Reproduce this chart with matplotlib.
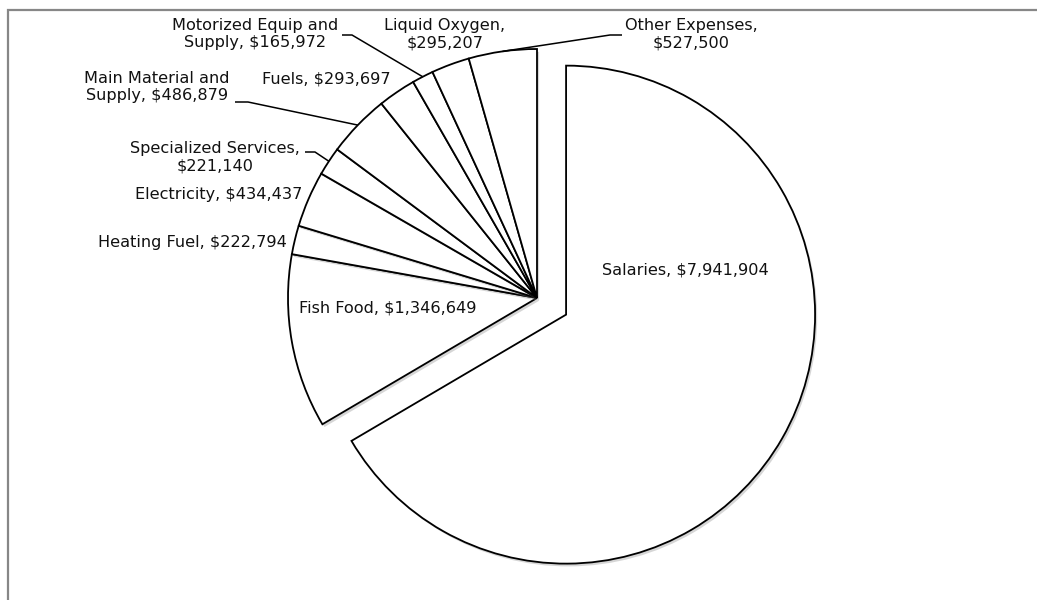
import numpy as np
import matplotlib
matplotlib.use("Agg")
import matplotlib.pyplot as plt
import matplotlib.patheffects as pe

# operating budget by expense category
categories = ["Salaries", "Fish Food", "Heating Fuel", "Electricity",
              "Specialized Services", "Main Material and Supply", "Fuels",
              "Motorized Equip and Supply", "Liquid Oxygen", "Other Expenses"]
amounts = [7941904, 1346649, 222794, 434437, 221140, 486879, 293697,
           165972, 295207, 527500]
label_text = ["Salaries, $7,941,904", "Fish Food, $1,346,649",
              "Heating Fuel, $222,794", "Electricity, $434,437",
              "Specialized Services,\n$221,140",
              "Main Material and\nSupply, $486,879", "Fuels, $293,697",
              "Motorized Equip and\nSupply, $165,972",
              "Liquid Oxygen,\n$295,207", "Other Expenses,\n$527,500"]

W, H = 1037, 600
# label anchor (x, y from top), alignment, optional leader stub (x_start, x_end, y)
label_pos = [(685, 270, "center"), (388, 308, "center"), (287, 242, "right"),
             (302, 195, "right"), (215, 157, "center"), (157, 87, "center"),
             (326, 79, "center"), (255, 34, "center"), (445, 34, "center"),
             (691, 34, "center")]
stubs = {4: (305, 315, 152), 5: (235, 248, 102), 7: (342, 352, 35),
         9: (622, 610, 35)}

plt.rcParams["font.family"] = ["DejaVu Sans"]

fig = plt.figure(figsize=(W / 100, H / 100), dpi=100)
ax = fig.add_axes([0, 0, 1, 1])

cx, cy, r = 537, H - 298, 249
# pie offsets the exploded wedge by this many data units (pixels here)
explode = [33.5] + [0] * (len(amounts) - 1)
shadow = [pe.SimplePatchShadow(offset=(1.5, -2), shadow_rgbFace="0.55", alpha=0.35),
          pe.Normal()]
wedges, _ = ax.pie(amounts, startangle=90, counterclock=False, explode=explode,
                   center=(cx, cy), radius=r,
                   wedgeprops=dict(facecolor="white", edgecolor="black",
                                   linewidth=1.3, path_effects=shadow))

ax.set_xlim(0, W)
ax.set_ylim(0, H)
ax.set_aspect("equal")
ax.axis("off")

for i, (txt, (x, y, ha)) in enumerate(zip(label_text, label_pos)):
    ax.text(x, H - y, txt, ha=ha, va="center", fontsize=11.6,
            color="#111111", linespacing=1.2, multialignment="center")
    if i in stubs:
        w = wedges[i]
        mid = np.deg2rad((w.theta1 + w.theta2) / 2)
        px = w.center[0] + w.r * np.cos(mid)
        py = w.center[1] + w.r * np.sin(mid)
        x0, x1, sy = stubs[i]
        ax.plot([x0, x1, px], [H - sy, H - sy, py], color="black", lw=1.1,
                solid_capstyle="butt")

# chart area frame (left and top edges only)
ax.plot([8, 8, W], [0, H - 10, H - 10], color="#878787", lw=1.6,
        solid_joinstyle="miter")

fig.savefig("out.png", dpi=100, facecolor="white")
